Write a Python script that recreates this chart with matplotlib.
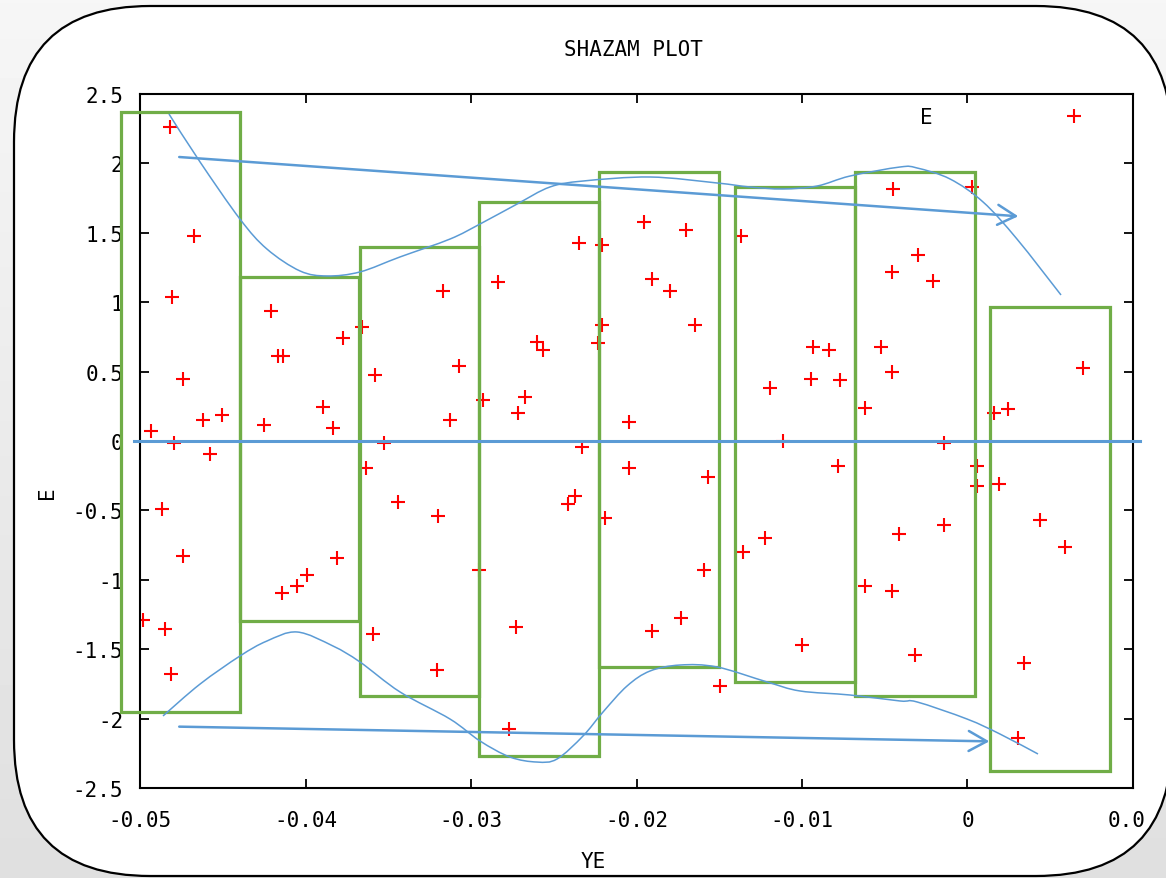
import numpy as np
import matplotlib.pyplot as plt
from matplotlib.patches import Rectangle, FancyBboxPatch, PathPatch
from matplotlib.path import Path
from matplotlib.transforms import Bbox

plt.rcParams['font.family'] = 'DejaVu Sans Mono'
plt.rcParams['axes.unicode_minus'] = False

# scatter data (YE, E)
ye = [-0.04819, -0.04672, -0.04808, -0.04208, -0.03660, -0.03772, -0.04164, -0.04138,
      -0.03580, -0.04738, -0.03892, -0.04618, -0.04506, -0.04249, -0.03832, -0.04934,
      -0.04795, -0.03524, -0.04577, -0.03636, -0.04865, -0.04738, -0.03811, -0.03989,
      -0.04053, -0.04144, -0.04980, -0.04849, -0.03590, -0.04813, -0.03441,
      -0.01953, -0.02346, -0.02207, -0.02839, -0.03167, -0.02207, -0.02603, -0.02563,
      -0.02234, -0.03071, -0.02926, -0.02674, -0.02714, -0.03127, -0.02044, -0.02331,
      -0.02044, -0.03198, -0.02412, -0.02372, -0.02190, -0.02950, -0.02728, -0.03207,
      -0.02769,
      -0.00448, -0.01701, -0.01370, -0.00454, -0.01908, -0.01798, -0.01647, -0.00932,
      -0.00837, -0.00523, -0.01193, -0.00947, -0.00770, -0.00454, -0.00619, -0.01113,
      -0.00784, -0.01566, -0.01224, -0.01355, -0.01590, -0.01731, -0.01908, -0.01002,
      -0.00619, -0.00454, -0.01495,
      0.00029, -0.00301, -0.00207, 0.00700, 0.00247, 0.00162, -0.00140, 0.00056,
      0.00056, 0.00190, 0.00438, -0.00140, -0.00414, 0.00589, -0.00317, 0.00341, 0.00303]
e = [2.260, 1.475, 1.035, 0.934, 0.819, 0.740, 0.610, 0.610,
     0.478, 0.447, 0.247, 0.153, 0.187, 0.117, 0.091, 0.070,
     -0.014, -0.012, -0.097, -0.195, -0.490, -0.826, -0.845, -0.963,
     -1.043, -1.097, -1.290, -1.354, -1.390, -1.679, -0.437,
     1.576, 1.427, 1.412, 1.148, 1.083, 0.836, 0.711, 0.656,
     0.706, 0.543, 0.298, 0.315, 0.202, 0.151, 0.135, -0.045,
     -0.195, -0.538, -0.454, -0.394, -0.555, -0.927, -1.338, -1.648,
     -2.075,
     1.816, 1.522, 1.475, 1.215, 1.167, 1.083, 0.836, 0.675,
     0.658, 0.675, 0.380, 0.447, 0.442, 0.495, 0.236, 0.002,
     -0.178, -0.262, -0.701, -0.798, -0.929, -1.275, -1.371, -1.470,
     -1.043, -1.083, -1.767,
     1.832, 1.342, 1.151, 0.524, 0.231, 0.200, -0.014, -0.178,
     -0.322, -0.310, -0.569, -0.603, -0.670, -0.766, -1.540, -1.602, -2.142]

# range boxes per bin
box_left = [-0.05117, -0.04396, -0.03671, -0.02950, -0.02225, -0.01407, -0.00680, 0.00136]
box_right = [-0.04396, -0.03675, -0.02950, -0.02225, -0.01500, -0.00682, 0.00045, 0.00861]
box_top = [2.37, 1.18, 1.40, 1.72, 1.94, 1.83, 1.94, 0.963]
box_bottom = [-1.95, -1.30, -1.84, -2.27, -1.626, -1.734, -1.84, -2.38]

# hand-drawn envelopes
upper_x = [-0.04825, -0.04637, -0.04396, -0.04233, -0.04033, -0.03870, -0.03671, -0.03429,
           -0.03127, -0.02946, -0.02722, -0.02523, -0.02323, -0.01918, -0.01514, -0.01314,
           -0.01115, -0.00909, -0.00710, -0.00408, -0.00305, -0.00106, 0.00094, 0.00299, 0.00565]
upper_y = [2.356, 2.010, 1.599, 1.383, 1.225, 1.189, 1.218, 1.326,
           1.455, 1.563, 1.707, 1.830, 1.873, 1.902, 1.859, 1.830,
           1.816, 1.837, 1.909, 1.974, 1.967, 1.888, 1.722, 1.455, 1.052]
lower_x = [-0.04861, -0.04637, -0.04396, -0.04233, -0.04051, -0.03834, -0.03671, -0.03429,
           -0.03127, -0.02946, -0.02764, -0.02601, -0.02480, -0.02323, -0.02202, -0.02057,
           -0.01918, -0.01737, -0.01514, -0.01211, -0.01012, -0.00710, -0.00408, -0.00305,
           -0.00003, 0.00196, 0.00426]
lower_y = [-1.981, -1.751, -1.549, -1.441, -1.376, -1.477, -1.592, -1.808,
           -2.003, -2.161, -2.277, -2.313, -2.291, -2.125, -1.952, -1.765,
           -1.657, -1.614, -1.628, -1.736, -1.801, -1.830, -1.873, -1.880,
           -2.003, -2.111, -2.255]

# trend arrows
arrow_x0 = [-0.04763, -0.04763]
arrow_y0 = [2.046, -2.058]
arrow_x1 = [0.00307, 0.00132]
arrow_y1 = [1.619, -2.164]

x_ticks = [-0.05, -0.04, -0.03, -0.02, -0.01, 0.0, 0.01]
x_tick_labels = ['-0.05', '-0.04', '-0.03', '-0.02', '-0.01', '0', '0.01']
y_ticks = [2.5, 2, 1.5, 1, 0.5, 0, -0.5, -1, -1.5, -2, -2.5]
y_tick_labels = ['2.5', '2', '1.5', '1', '0.5', '0', '-0.5', '-1', '-1.5', '-2', '-2.5']

BLUE = '#5B9BD5'
GREEN = '#70AD47'
W, H = 1166, 879


def smooth_path(xs, ys):
    # Catmull-Rom through the points, as cubic bezier segments
    p = np.column_stack([xs, ys])
    n = len(p)
    verts = [p[0]]
    codes = [Path.MOVETO]
    for i in range(n - 1):
        p0 = p[i - 1] if i > 0 else p[i]
        p1, p2 = p[i], p[i + 1]
        p3 = p[i + 2] if i + 2 < n else p[i + 1]
        verts += [p1 + (p2 - p0) / 6, p2 - (p3 - p1) / 6, p2]
        codes += [Path.CURVE4] * 3
    return Path(verts, codes)


fig = plt.figure(figsize=(W / 100, H / 100), dpi=100)

# grey backdrop and rounded white card
bg = fig.add_axes([0, 0, 1, 1], zorder=-10)
grad = np.linspace(0.965, 0.875, 200)[:, None]
bg.imshow(grad, extent=[0, W, H, 0], aspect='auto', cmap='gray', vmin=0, vmax=1)
bg.set_xlim(0, W)
bg.set_ylim(H, 0)
bg.axis('off')
card = FancyBboxPatch((14, 7), 1158, 870, boxstyle='round,pad=0,rounding_size=136',
                      fc='white', ec='black', lw=1.6)
bg.add_patch(card)

ax = fig.add_axes([140 / W, 1 - 789 / H, 993 / W, 694 / H])
ax.set_facecolor('none')

ax.plot(ye, e, ls='none', marker='+', color='red', ms=10, mew=1.5, label='E', zorder=2)

for l, r, t, b in zip(box_left, box_right, box_top, box_bottom):
    ax.add_patch(Rectangle((l, b), r - l, t - b, fill=False, ec=GREEN, lw=2.3,
                           clip_on=False, zorder=3))

ax.plot([-0.05036, 0.01042], [0, 0], color=BLUE, lw=2.2, clip_on=False, zorder=4)

for xs, ys in [(upper_x, upper_y), (lower_x, lower_y)]:
    ax.add_patch(PathPatch(smooth_path(xs, ys), fill=False, ec=BLUE, lw=1.1,
                           clip_on=False, zorder=4))

for x0, y0, x1, y1 in zip(arrow_x0, arrow_y0, arrow_x1, arrow_y1):
    ax.annotate('', xy=(x1, y1), xytext=(x0, y0), annotation_clip=False,
                arrowprops=dict(arrowstyle='->,head_length=1.3,head_width=0.72',
                                color=BLUE, lw=1.8, shrinkA=0, shrinkB=0,
                                mutation_scale=10), zorder=4)

ax.set_xlim(-0.05, 0.01)
ax.set_ylim(-2.5, 2.5)
ax.set_xticks(x_ticks)
ax.set_xticklabels(x_tick_labels)
ax.set_yticks(y_ticks)
ax.set_yticklabels(y_tick_labels)
ax.tick_params(direction='in', length=6.7, width=1.3, top=True, right=True,
               labelsize=15, colors='black')
ax.tick_params(axis='x', pad=16)
ax.tick_params(axis='y', pad=12)
for s in ax.spines.values():
    s.set_linewidth(1.5)

ax.set_xlabel('YE', fontsize=15)
ax.xaxis.label.set_va('center')
ax.xaxis.set_label_coords(0.4562, -0.1052)
ax.set_ylabel('E', fontsize=15)
ax.yaxis.label.set_va('center')
ax.yaxis.set_label_coords(-0.0937, 0.4265)

ax.legend(loc='center right', bbox_to_anchor=(0.9617, 0.9669), frameon=False,
          markerfirst=False, numpoints=1, handlelength=2, handletextpad=5.8,
          borderpad=0, borderaxespad=0, fontsize=15)

fig.text(633 / W, 1 - 50 / H, 'SHAZAM PLOT', ha='center', va='center', fontsize=15)

# the last x label runs past the card's rounded corner; cut it there
fig.canvas.draw()
edge = Bbox([[0, 0], [1145, H]])
for t in ax.xaxis.get_major_ticks():
    t.label1.set_clip_box(edge)

fig.savefig('out.png', dpi=100)
